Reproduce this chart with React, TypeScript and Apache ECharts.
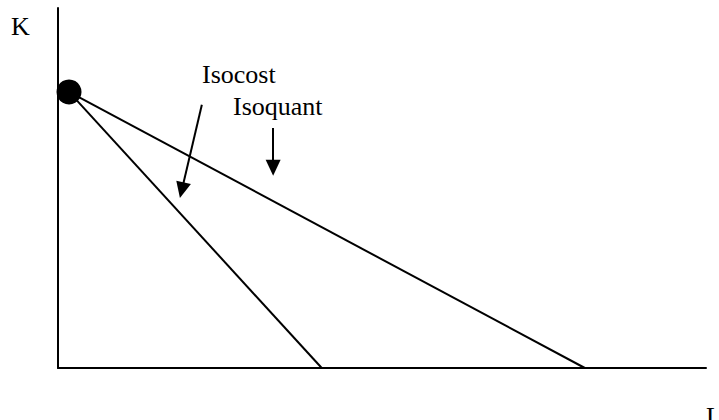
import React, { useEffect, useRef } from "react";
import * as echarts from "echarts";

const xRange = [0, 100];
const yRange = [0, 100];
const tangencyPoint = [1.7, 76.7];
const isocostLine = [
  [1.7, 76.7],
  [40.7, 0],
];
const isoquantLine = [
  [1.7, 76.7],
  [81.3, 0],
];
const arrowIsocost = [
  [22.2, 73.1],
  [19.1, 49.4],
];
const arrowIsoquant = [
  [33.2, 66.7],
  [33.2, 55.6],
];
const labels = { k: "K", l: "L", isocost: "Isocost", isoquant: "Isoquant" };

export default function App() {
  const ref = useRef<HTMLDivElement>(null);
  useEffect(() => {
    if (!ref.current) return;
    const chart = echarts.init(ref.current, null, { renderer: "svg" });
    const txt = (text: string, x: number, y: number) => ({
      type: "text",
      x,
      y,
      style: {
        text,
        fill: "#000",
        font: "26px 'Times New Roman', 'Liberation Serif', serif",
        verticalAlign: "middle",
        align: "left",
      },
    });
    chart.setOption({
      animation: false,
      grid: { left: 58, right: 13, top: 8, bottom: 52 },
      xAxis: {
        type: "value",
        min: xRange[0],
        max: xRange[1],
        axisLine: { show: true, onZero: false, lineStyle: { color: "#000", width: 2 } },
        axisTick: { show: false },
        axisLabel: { show: false },
        splitLine: { show: false },
      },
      yAxis: {
        type: "value",
        min: yRange[0],
        max: yRange[1],
        axisLine: { show: true, onZero: false, lineStyle: { color: "#000", width: 2 } },
        axisTick: { show: false },
        axisLabel: { show: false },
        splitLine: { show: false },
      },
      series: [
        {
          type: "line",
          data: isocostLine,
          showSymbol: false,
          lineStyle: { color: "#000", width: 2 },
          silent: true,
        },
        {
          type: "line",
          data: isoquantLine,
          showSymbol: false,
          lineStyle: { color: "#000", width: 2 },
          silent: true,
          markLine: {
            silent: true,
            symbol: ["none", "triangle"],
            symbolSize: [15, 16],
            label: { show: false },
            lineStyle: { color: "#000", width: 2, type: "solid" },
            itemStyle: { color: "#000" },
            data: [
              [
                { coord: arrowIsocost[0] },
                { coord: arrowIsocost[1] },
              ],
              [
                { coord: arrowIsoquant[0] },
                { coord: arrowIsoquant[1] },
              ],
            ],
          },
        },
        {
          type: "scatter",
          data: [tangencyPoint],
          symbolSize: 25,
          itemStyle: { color: "#000", opacity: 1 },
          silent: true,
          z: 5,
        },
      ],
      graphic: [
        txt(labels.k, 11, 26),
        txt(labels.l, 706, 416),
        txt(labels.isocost, 202, 74),
        txt(labels.isoquant, 233, 106),
      ],
    });
    return () => chart.dispose();
  }, []);
  return <div ref={ref} style={{ width: 719, height: 420, position: "absolute", left: 0, top: 0 }} />;
}
